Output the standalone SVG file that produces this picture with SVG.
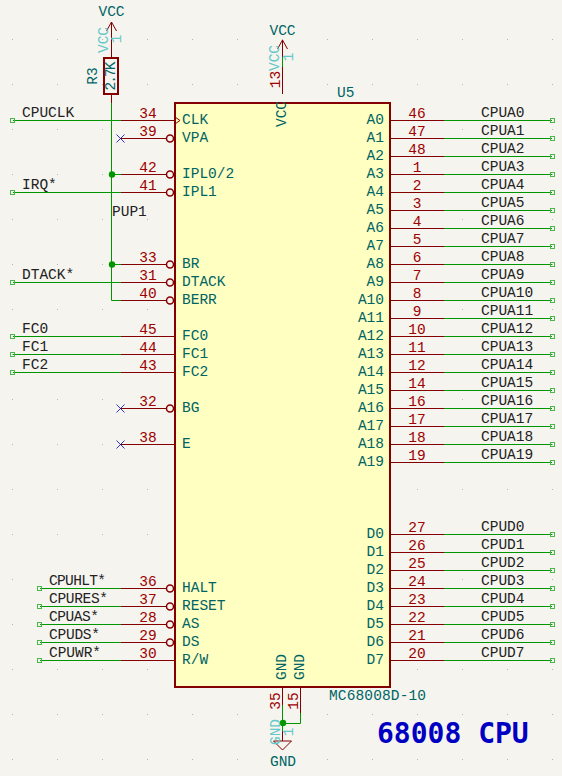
<svg xmlns="http://www.w3.org/2000/svg" width="562" height="776" viewBox="0 0 562 776">
<style>
text{font-family:"Liberation Mono",monospace;font-size:14.5px}
.lbl{fill:#222}
.num{fill:#a00000;text-anchor:middle}
.nm{fill:#006464}
.nr{fill:#006464;text-anchor:end}
.c{text-anchor:middle}
.t{fill:#006464}
.g{fill:#64c8c8}
.pin{stroke:#840000;stroke-width:1;fill:none}
.inv{stroke:#840000;stroke-width:1.5;fill:none}
.w{stroke:#009600;stroke-width:1;fill:none}
.sq{stroke:#48b848;stroke-width:1;fill:none}
.x{stroke:#0000b0;stroke-width:.8;fill:none}
.j{fill:#009600}
</style>
<defs>
<pattern id="grid" width="45" height="45" patternUnits="userSpaceOnUse" x="12" y="39"><rect width="1" height="1" fill="#b4b4b0"/></pattern>
</defs>
<rect width="562" height="776" fill="#f5f4ef"/>
<rect width="562" height="776" fill="url(#grid)"/>

<g id="connectors">
<path class="w" d="M111.5 103V300.5H121"/>
<path class="w" d="M112 174.5H121"/>
<path class="w" d="M112 264.5H121"/>
<path class="w" d="M282.5 57V67"/>
<path class="w" d="M282.5 705V731"/>
<path class="w" d="M300.5 713V723.5H283"/>
<g id="left-wires">
<path class="w" d="M13 120.5H121"/><rect class="sq" x="10.5" y="118.5" width="4" height="4"/>
<path class="w" d="M13 192.5H121"/><rect class="sq" x="10.5" y="190.5" width="4" height="4"/>
<path class="w" d="M13 282.5H121"/><rect class="sq" x="10.5" y="280.5" width="4" height="4"/>
<path class="w" d="M13 336.5H121"/><rect class="sq" x="10.5" y="334.5" width="4" height="4"/>
<path class="w" d="M13 354.5H121"/><rect class="sq" x="10.5" y="352.5" width="4" height="4"/>
<path class="w" d="M13 372.5H121"/><rect class="sq" x="10.5" y="370.5" width="4" height="4"/>
<path class="w" d="M40 588.5H121"/><rect class="sq" x="37.5" y="586.5" width="4" height="4"/>
<path class="w" d="M40 606.5H121"/><rect class="sq" x="37.5" y="604.5" width="4" height="4"/>
<path class="w" d="M40 624.5H121"/><rect class="sq" x="37.5" y="622.5" width="4" height="4"/>
<path class="w" d="M40 642.5H121"/><rect class="sq" x="37.5" y="640.5" width="4" height="4"/>
<path class="w" d="M40 660.5H121"/><rect class="sq" x="37.5" y="658.5" width="4" height="4"/>
</g>
<g id="right-wires">
<path class="w" d="M444 120.5H552"/><rect class="sq" x="550.5" y="118.5" width="4" height="4"/>
<path class="w" d="M444 138.5H552"/><rect class="sq" x="550.5" y="136.5" width="4" height="4"/>
<path class="w" d="M444 156.5H552"/><rect class="sq" x="550.5" y="154.5" width="4" height="4"/>
<path class="w" d="M444 174.5H552"/><rect class="sq" x="550.5" y="172.5" width="4" height="4"/>
<path class="w" d="M444 192.5H552"/><rect class="sq" x="550.5" y="190.5" width="4" height="4"/>
<path class="w" d="M444 210.5H552"/><rect class="sq" x="550.5" y="208.5" width="4" height="4"/>
<path class="w" d="M444 228.5H552"/><rect class="sq" x="550.5" y="226.5" width="4" height="4"/>
<path class="w" d="M444 246.5H552"/><rect class="sq" x="550.5" y="244.5" width="4" height="4"/>
<path class="w" d="M444 264.5H552"/><rect class="sq" x="550.5" y="262.5" width="4" height="4"/>
<path class="w" d="M444 282.5H552"/><rect class="sq" x="550.5" y="280.5" width="4" height="4"/>
<path class="w" d="M444 300.5H552"/><rect class="sq" x="550.5" y="298.5" width="4" height="4"/>
<path class="w" d="M444 318.5H552"/><rect class="sq" x="550.5" y="316.5" width="4" height="4"/>
<path class="w" d="M444 336.5H552"/><rect class="sq" x="550.5" y="334.5" width="4" height="4"/>
<path class="w" d="M444 354.5H552"/><rect class="sq" x="550.5" y="352.5" width="4" height="4"/>
<path class="w" d="M444 372.5H552"/><rect class="sq" x="550.5" y="370.5" width="4" height="4"/>
<path class="w" d="M444 390.5H552"/><rect class="sq" x="550.5" y="388.5" width="4" height="4"/>
<path class="w" d="M444 408.5H552"/><rect class="sq" x="550.5" y="406.5" width="4" height="4"/>
<path class="w" d="M444 426.5H552"/><rect class="sq" x="550.5" y="424.5" width="4" height="4"/>
<path class="w" d="M444 444.5H552"/><rect class="sq" x="550.5" y="442.5" width="4" height="4"/>
<path class="w" d="M444 462.5H552"/><rect class="sq" x="550.5" y="460.5" width="4" height="4"/>
<path class="w" d="M444 534.5H552"/><rect class="sq" x="550.5" y="532.5" width="4" height="4"/>
<path class="w" d="M444 552.5H552"/><rect class="sq" x="550.5" y="550.5" width="4" height="4"/>
<path class="w" d="M444 570.5H552"/><rect class="sq" x="550.5" y="568.5" width="4" height="4"/>
<path class="w" d="M444 588.5H552"/><rect class="sq" x="550.5" y="586.5" width="4" height="4"/>
<path class="w" d="M444 606.5H552"/><rect class="sq" x="550.5" y="604.5" width="4" height="4"/>
<path class="w" d="M444 624.5H552"/><rect class="sq" x="550.5" y="622.5" width="4" height="4"/>
<path class="w" d="M444 642.5H552"/><rect class="sq" x="550.5" y="640.5" width="4" height="4"/>
<path class="w" d="M444 660.5H552"/><rect class="sq" x="550.5" y="658.5" width="4" height="4"/>
</g>
<circle class="j" cx="112" cy="174.5" r="3.2"/>
<circle class="j" cx="112" cy="264.5" r="3.2"/>
<circle class="j" cx="283" cy="723" r="3.2"/>
<path class="x" d="M116.5 134.5l8 8M124.5 134.5l-8 8M116.5 404.5l8 8M124.5 404.5l-8 8M116.5 440.5l8 8M124.5 440.5l-8 8"/>
</g>

<g id="net-labels">
<text class="lbl" x="22" y="117">CPUCLK</text>
<text class="lbl" x="22" y="189">IRQ*</text>
<text class="lbl" x="22" y="279">DTACK*</text>
<text class="lbl" x="22" y="333">FC0</text>
<text class="lbl" x="22" y="351">FC1</text>
<text class="lbl" x="22" y="369">FC2</text>
<text class="lbl" x="112" y="216">PUP1</text>
<text class="lbl" x="49" y="585" textLength="57">CPUHLT*</text>
<text class="lbl" x="49" y="603" textLength="59">CPURES*</text>
<text class="lbl" x="49" y="621" textLength="50">CPUAS*</text>
<text class="lbl" x="49" y="639" textLength="51">CPUDS*</text>
<text class="lbl" x="49" y="657" textLength="52">CPUWR*</text>
<text class="lbl" x="481" y="117">CPUA0</text>
<text class="lbl" x="481" y="135">CPUA1</text>
<text class="lbl" x="481" y="153">CPUA2</text>
<text class="lbl" x="481" y="171">CPUA3</text>
<text class="lbl" x="481" y="189">CPUA4</text>
<text class="lbl" x="481" y="207">CPUA5</text>
<text class="lbl" x="481" y="225">CPUA6</text>
<text class="lbl" x="481" y="243">CPUA7</text>
<text class="lbl" x="481" y="261">CPUA8</text>
<text class="lbl" x="481" y="279">CPUA9</text>
<text class="lbl" x="481" y="297">CPUA10</text>
<text class="lbl" x="481" y="315">CPUA11</text>
<text class="lbl" x="481" y="333">CPUA12</text>
<text class="lbl" x="481" y="351">CPUA13</text>
<text class="lbl" x="481" y="369">CPUA14</text>
<text class="lbl" x="481" y="387">CPUA15</text>
<text class="lbl" x="481" y="405">CPUA16</text>
<text class="lbl" x="481" y="423">CPUA17</text>
<text class="lbl" x="481" y="441">CPUA18</text>
<text class="lbl" x="481" y="459">CPUA19</text>
<text class="lbl" x="481" y="531">CPUD0</text>
<text class="lbl" x="481" y="549">CPUD1</text>
<text class="lbl" x="481" y="567">CPUD2</text>
<text class="lbl" x="481" y="585">CPUD3</text>
<text class="lbl" x="481" y="603">CPUD4</text>
<text class="lbl" x="481" y="621">CPUD5</text>
<text class="lbl" x="481" y="639">CPUD6</text>
<text class="lbl" x="481" y="657">CPUD7</text>
</g>

<g id="U5">
<rect x="175" y="103" width="215" height="584" fill="#ffffc2" stroke="#840000" stroke-width="2"/>
<path class="pin" d="M121 120.5H175M175 117l5 3.5-5 3.5"/>
<path class="pin" d="M121 138.5H166M121 174.5H166M121 192.5H166M121 264.5H166M121 282.5H166M121 300.5H166M121 408.5H166M121 588.5H166M121 606.5H166M121 624.5H166M121 642.5H166"/>
<path class="pin" d="M121 336.5H175M121 354.5H175M121 372.5H175M121 444.5H175M121 660.5H175"/>
<g class="inv">
<circle cx="170" cy="138.5" r="3.5"/><circle cx="170" cy="174.5" r="3.5"/><circle cx="170" cy="192.5" r="3.5"/>
<circle cx="170" cy="264.5" r="3.5"/><circle cx="170" cy="282.5" r="3.5"/><circle cx="170" cy="300.5" r="3.5"/>
<circle cx="170" cy="408.5" r="3.5"/><circle cx="170" cy="588.5" r="3.5"/><circle cx="170" cy="606.5" r="3.5"/>
<circle cx="170" cy="624.5" r="3.5"/><circle cx="170" cy="642.5" r="3.5"/>
</g>
<path class="pin" d="M390 120.5H444M390 138.5H444M390 156.5H444M390 174.5H444M390 192.5H444M390 210.5H444M390 228.5H444M390 246.5H444M390 264.5H444M390 282.5H444M390 300.5H444M390 318.5H444M390 336.5H444M390 354.5H444M390 372.5H444M390 390.5H444M390 408.5H444M390 426.5H444M390 444.5H444M390 462.5H444"/>
<path class="pin" d="M390 534.5H444M390 552.5H444M390 570.5H444M390 588.5H444M390 606.5H444M390 624.5H444M390 642.5H444M390 660.5H444"/>
<path class="pin" d="M282.5 67V94"/>
<path class="pin" d="M282.5 687V705M300.5 687V713"/>
<text class="t" x="337" y="97">U5</text>
<text class="t" x="329" y="700" textLength="97">MC68008D-10</text>
<text class="t c" transform="translate(286 114) rotate(-90)">VCC</text>
<text class="t c" transform="translate(286 667) rotate(-90)">GND</text>
<text class="t c" transform="translate(304 667) rotate(-90)">GND</text>
<text class="num" transform="translate(280 79.5) rotate(-90)">13</text>
<text class="num" transform="translate(280 701) rotate(-90)">35</text>
<text class="num" transform="translate(298 701) rotate(-90)">15</text>
<text class="nm" x="182" y="124">CLK</text>
<text class="nm" x="182" y="142">VPA</text>
<text class="nm" x="182" y="178">IPL0/2</text>
<text class="nm" x="182" y="196">IPL1</text>
<text class="nm" x="182" y="268">BR</text>
<text class="nm" x="182" y="286">DTACK</text>
<text class="nm" x="182" y="304">BERR</text>
<text class="nm" x="182" y="340">FC0</text>
<text class="nm" x="182" y="358">FC1</text>
<text class="nm" x="182" y="376">FC2</text>
<text class="nm" x="182" y="412">BG</text>
<text class="nm" x="182" y="448">E</text>
<text class="nm" x="182" y="592">HALT</text>
<text class="nm" x="182" y="610">RESET</text>
<text class="nm" x="182" y="628">AS</text>
<text class="nm" x="182" y="646">DS</text>
<text class="nm" x="182" y="664">R/W</text>
<text class="num" x="148" y="118">34</text>
<text class="num" x="148" y="136">39</text>
<text class="num" x="148" y="172">42</text>
<text class="num" x="148" y="190">41</text>
<text class="num" x="148" y="262">33</text>
<text class="num" x="148" y="280">31</text>
<text class="num" x="148" y="298">40</text>
<text class="num" x="148" y="334">45</text>
<text class="num" x="148" y="352">44</text>
<text class="num" x="148" y="370">43</text>
<text class="num" x="148" y="406">32</text>
<text class="num" x="148" y="442">38</text>
<text class="num" x="148" y="586">36</text>
<text class="num" x="148" y="604">37</text>
<text class="num" x="148" y="622">28</text>
<text class="num" x="148" y="640">29</text>
<text class="num" x="148" y="658">30</text>
<text class="nr" x="384" y="124">A0</text>
<text class="nr" x="384" y="142">A1</text>
<text class="nr" x="384" y="160">A2</text>
<text class="nr" x="384" y="178">A3</text>
<text class="nr" x="384" y="196">A4</text>
<text class="nr" x="384" y="214">A5</text>
<text class="nr" x="384" y="232">A6</text>
<text class="nr" x="384" y="250">A7</text>
<text class="nr" x="384" y="268">A8</text>
<text class="nr" x="384" y="286">A9</text>
<text class="nr" x="384" y="304">A10</text>
<text class="nr" x="384" y="322">A11</text>
<text class="nr" x="384" y="340">A12</text>
<text class="nr" x="384" y="358">A13</text>
<text class="nr" x="384" y="376">A14</text>
<text class="nr" x="384" y="394">A15</text>
<text class="nr" x="384" y="412">A16</text>
<text class="nr" x="384" y="430">A17</text>
<text class="nr" x="384" y="448">A18</text>
<text class="nr" x="384" y="466">A19</text>
<text class="nr" x="384" y="538">D0</text>
<text class="nr" x="384" y="556">D1</text>
<text class="nr" x="384" y="574">D2</text>
<text class="nr" x="384" y="592">D3</text>
<text class="nr" x="384" y="610">D4</text>
<text class="nr" x="384" y="628">D5</text>
<text class="nr" x="384" y="646">D6</text>
<text class="nr" x="384" y="664">D7</text>
<text class="num" x="417" y="118">46</text>
<text class="num" x="417" y="136">47</text>
<text class="num" x="417" y="154">48</text>
<text class="num" x="417" y="172">1</text>
<text class="num" x="417" y="190">2</text>
<text class="num" x="417" y="208">3</text>
<text class="num" x="417" y="226">4</text>
<text class="num" x="417" y="244">5</text>
<text class="num" x="417" y="262">6</text>
<text class="num" x="417" y="280">7</text>
<text class="num" x="417" y="298">8</text>
<text class="num" x="417" y="316">9</text>
<text class="num" x="417" y="334">10</text>
<text class="num" x="417" y="352">11</text>
<text class="num" x="417" y="370">12</text>
<text class="num" x="417" y="388">14</text>
<text class="num" x="417" y="406">16</text>
<text class="num" x="417" y="424">17</text>
<text class="num" x="417" y="442">18</text>
<text class="num" x="417" y="460">19</text>
<text class="num" x="417" y="532">27</text>
<text class="num" x="417" y="550">26</text>
<text class="num" x="417" y="568">25</text>
<text class="num" x="417" y="586">24</text>
<text class="num" x="417" y="604">23</text>
<text class="num" x="417" y="622">22</text>
<text class="num" x="417" y="640">21</text>
<text class="num" x="417" y="658">20</text>
</g>

<g id="R3">
<path class="pin" d="M111.5 95V103"/>
<rect x="104" y="58" width="14" height="36" fill="none" stroke="#840000" stroke-width="2"/>
<text class="t c" transform="translate(97 76) rotate(-90)">R3</text>
<text class="t c" transform="translate(115 76) rotate(-90)" textLength="29">2.7K</text>
</g>

<g id="VCC1">
<path class="pin" d="M111.5 57V22M106.5 31l5-9 5 9"/>
<text class="t c" x="111.5" y="16">VCC</text>
<text class="g c" transform="translate(108 40) rotate(-90)">VCC</text>
<text class="g c" transform="translate(121 39) rotate(-90)">1</text>
</g>

<g id="VCC2">
<path class="pin" d="M282.5 57V40M277.5 49l5-9 5 9"/>
<text class="t c" x="282.5" y="35">VCC</text>
<text class="g c" transform="translate(279 58) rotate(-90)">VCC</text>
<text class="g c" transform="translate(293 57) rotate(-90)">1</text>
</g>

<g id="GND1">
<path class="pin" d="M282.5 731V741M273.5 741H291.5L282.5 750Z"/>
<text class="t c" x="283" y="766">GND</text>
<text class="g c" transform="translate(280 732) rotate(-90)">GND</text>
<text class="g c" transform="translate(293 732) rotate(-90)">1</text>
</g>

<g id="title">
<text x="377" y="743" style="font-family:'DejaVu Sans Mono',monospace;font-size:28px;font-weight:bold;fill:#0000c2">68008 CPU</text>
</g>
</svg>
